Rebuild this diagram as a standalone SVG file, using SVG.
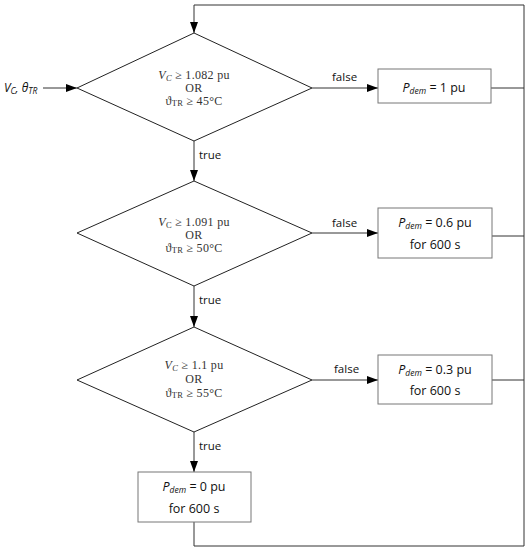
<svg xmlns="http://www.w3.org/2000/svg" width="528" height="550" viewBox="0 0 528 550">
<defs>
<marker id="arr" markerWidth="11" markerHeight="8" refX="11" refY="4" orient="auto" markerUnits="userSpaceOnUse">
<path d="M0,0 L11,4 L0,8 Z" fill="#000"/>
</marker>
<style>
.shape{fill:#fff;stroke:#222;stroke-width:1}
.box{fill:#fff;stroke:#777;stroke-width:1}
.ln{fill:none;stroke:#333;stroke-width:1}
.cond{font-family:"Liberation Serif",serif;font-size:12px;fill:#333;text-anchor:middle;letter-spacing:0.3px}
.bt{font-family:"Open Sans","Liberation Sans",sans-serif;font-size:12.5px;fill:#111;text-anchor:middle}
.lbl{font-family:"Open Sans","Liberation Sans",sans-serif;font-size:11.5px;fill:#111}
.sub{font-size:8.5px}
</style>
</defs>
<rect width="528" height="550" fill="#fff"/>
<g id="connectors">
<path class="ln" d="M43,88 H77" marker-end="url(#arr)"/>
<path class="ln" d="M312,88 H378" marker-end="url(#arr)"/>
<path class="ln" d="M312,233 H378" marker-end="url(#arr)"/>
<path class="ln" d="M312,380 H378" marker-end="url(#arr)"/>
<path class="ln" d="M194,141 V181" marker-end="url(#arr)"/>
<path class="ln" d="M194,286 V327" marker-end="url(#arr)"/>
<path class="ln" d="M194,432 V472" marker-end="url(#arr)"/>
<path class="ln" d="M194,522 V546 H524 V5 H194 V33" marker-end="url(#arr)"/>
<path class="ln" d="M491,88 H524"/>
<path class="ln" d="M492,236 H524"/>
<path class="ln" d="M492,380 H524"/>
<text class="lbl" x="332" y="81">false</text>
<text class="lbl" x="332" y="227">false</text>
<text class="lbl" x="334" y="373">false</text>
<text class="lbl" x="199" y="159">true</text>
<text class="lbl" x="199" y="304">true</text>
<text class="lbl" x="199" y="450">true</text>
</g>
<g id="input">
<text x="4" y="92" font-family="Open Sans,Liberation Sans,sans-serif" font-size="12" font-style="italic" fill="#111">V<tspan class="sub" dy="2">C</tspan><tspan dy="-2">, θ</tspan><tspan class="sub" dy="2">TR</tspan></text>
</g>
<g id="decision1">
<polygon class="shape" points="194,33 312,88 194,141 77,88"/>
<text class="cond" x="194" y="79"><tspan font-style="italic">V</tspan><tspan class="sub" font-style="italic" dy="2">C</tspan><tspan dy="-2"> ≥ 1.082 pu</tspan></text>
<text class="cond" x="194" y="92">OR</text>
<text class="cond" x="194" y="105">ϑ<tspan class="sub" dy="1">TR</tspan><tspan dy="-1">  ≥ 45°C</tspan></text>
</g>
<g id="box1">
<rect class="box" x="378" y="69" width="113" height="34"/>
<text class="bt" x="434" y="92"><tspan font-style="italic">P</tspan><tspan class="sub" font-style="italic" dy="2">dem</tspan><tspan dy="-2"> = 1 pu</tspan></text>
</g>
<g id="decision2">
<polygon class="shape" points="194,181 312,233 194,286 77,233"/>
<text class="cond" x="194" y="226"><tspan font-style="italic">V</tspan><tspan class="sub" dy="2">C</tspan><tspan dy="-2"> ≥ 1.091 pu</tspan></text>
<text class="cond" x="194" y="239">OR</text>
<text class="cond" x="194" y="252">ϑ<tspan class="sub" dy="1">TR</tspan><tspan dy="-1">  ≥ 50°C</tspan></text>
</g>
<g id="box2">
<rect class="box" x="378" y="208" width="114" height="50"/>
<text class="bt" x="435" y="227"><tspan font-style="italic">P</tspan><tspan class="sub" font-style="italic" dy="2">dem</tspan><tspan dy="-2"> = 0.6 pu</tspan></text>
<text class="bt" x="435" y="249">for 600 s</text>
</g>
<g id="decision3">
<polygon class="shape" points="194,327 312,380 194,432 77,380"/>
<text class="cond" x="194" y="369"><tspan font-style="italic">V</tspan><tspan class="sub" font-style="italic" dy="2">C</tspan><tspan dy="-2"> ≥ 1.1 pu</tspan></text>
<text class="cond" x="194" y="383">OR</text>
<text class="cond" x="194" y="397">ϑ<tspan class="sub" dy="1">TR</tspan><tspan dy="-1">  ≥ 55°C</tspan></text>
</g>
<g id="box3">
<rect class="box" x="378" y="355" width="114" height="49"/>
<text class="bt" x="435" y="374"><tspan font-style="italic">P</tspan><tspan class="sub" font-style="italic" dy="2">dem</tspan><tspan dy="-2"> = 0.3 pu</tspan></text>
<text class="bt" x="435" y="395">for 600 s</text>
</g>
<g id="box4">
<rect class="box" x="138" y="472" width="113" height="50"/>
<text class="bt" x="194" y="491"><tspan font-style="italic">P</tspan><tspan class="sub" font-style="italic" dy="2">dem</tspan><tspan dy="-2"> = 0 pu</tspan></text>
<text class="bt" x="194" y="513">for 600 s</text>
</g>
</svg>
